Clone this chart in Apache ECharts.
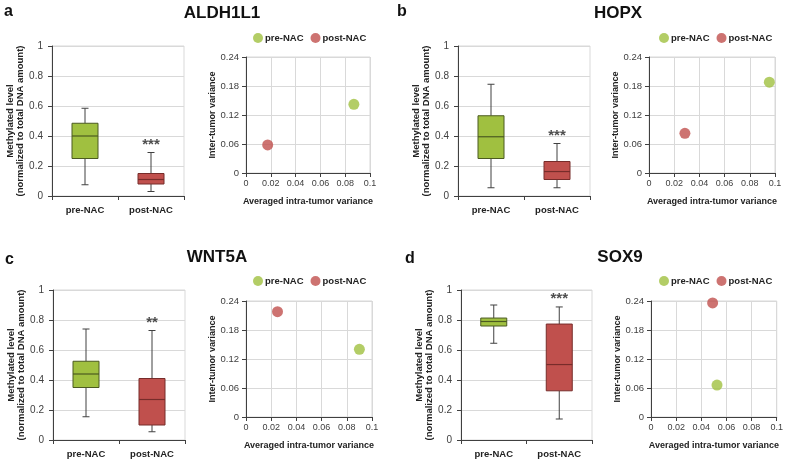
<!DOCTYPE html>
<html>
<head>
<meta charset="utf-8">
<script src="https://cdn.jsdelivr.net/npm/echarts@6/dist/echarts.min.js"></script>
<style>
  html, body { margin: 0; padding: 0; background: #fff; }
  #main { width: 786px; height: 462px; }
</style>
</head>
<body>
<div id="main"></div>
<script>
// data
const genes = ['ALDH1L1', 'HOPX', 'WNT5A', 'SOX9'];
const panelLetters = ['a', 'b', 'c', 'd'];
const groups = ['pre-NAC', 'post-NAC'];
// [min, Q1, median, Q3, max]
const preBox = [
  [0.075, 0.25, 0.40, 0.485, 0.585],
  [0.055, 0.25, 0.395, 0.535, 0.745],
  [0.155, 0.35, 0.44, 0.525, 0.74],
  [0.645, 0.76, 0.79, 0.813, 0.90]
];
const postBox = [
  [0.03, 0.08, 0.11, 0.15, 0.29],
  [0.055, 0.11, 0.163, 0.23, 0.35],
  [0.055, 0.10, 0.27, 0.41, 0.73],
  [0.14, 0.328, 0.503, 0.773, 0.887]
];
const stars = ['***', '***', '**', '***'];
const starLevel = [0.34, 0.40, 0.78, 0.94];
// [averaged intra-tumor variance, inter-tumor variance]
const preVar = [[0.087, 0.142], [0.0955, 0.188], [0.090, 0.140], [0.0525, 0.066]];
const postVar = [[0.0175, 0.058], [0.0285, 0.082], [0.025, 0.218], [0.049, 0.236]];
const boxTicks = { min: 0, max: 1, interval: 0.2 };
const varXTicks = { min: 0, max: 0.1, interval: 0.02 };
const varYTicks = { min: 0, max: 0.24, interval: 0.06 };

const green = '#a0c040', greenEdge = '#4b5a20';
const red = '#c0504d', redEdge = '#772c2a';
const axisColor = '#404040', gridColor = '#d9d9d9';
const font = "'Liberation Sans', Arial, sans-serif";

// panel layout
const boxGrids = [
  { left: 52, top: 46, width: 132, height: 150 },
  { left: 458, top: 46, width: 132, height: 150 },
  { left: 53, top: 290, width: 132, height: 150 },
  { left: 461, top: 290, width: 131, height: 150 }
];
const varGrids = [
  { left: 246, top: 57, width: 124, height: 116 },
  { left: 649, top: 57, width: 126, height: 116 },
  { left: 246, top: 301, width: 126, height: 116 },
  { left: 651, top: 301, width: 126, height: 116 }
];
const titlePos = [[217, 0], [613, 0], [212, 244], [615, 244]];
const letterPos = [[-1, -1], [392, -1], [0, 247], [400, 246]];
const legendPos = [[248, 28], [654, 28], [248, 271], [654, 271]];

const chart = echarts.init(document.getElementById('main'));

const nameStyle = { fontSize: 9, fontWeight: 'bold', color: '#222', fontFamily: font };

function renderBox(params, api) {
  const cat = api.value(0);
  const v = [1, 2, 3, 4, 5].map(i => api.value(i));
  const pt = val => api.coord([cat, val]);
  const x = pt(v[0])[0];
  const half = 13, cap = 3.5;
  const fill = cat === 0 ? green : red;
  const edge = cat === 0 ? greenEdge : redEdge;
  const wStyle = { stroke: axisColor, lineWidth: 1 };
  const yMin = pt(v[0])[1], yQ1 = pt(v[1])[1], yMed = pt(v[2])[1], yQ3 = pt(v[3])[1], yMax = pt(v[4])[1];
  return {
    type: 'group',
    children: [
      { type: 'line', shape: { x1: x, y1: yMin, x2: x, y2: yQ1 }, style: wStyle },
      { type: 'line', shape: { x1: x, y1: yQ3, x2: x, y2: yMax }, style: wStyle },
      { type: 'line', shape: { x1: x - cap, y1: yMin, x2: x + cap, y2: yMin }, style: wStyle },
      { type: 'line', shape: { x1: x - cap, y1: yMax, x2: x + cap, y2: yMax }, style: wStyle },
      { type: 'rect', shape: { x: x - half, y: yQ3, width: half * 2, height: yQ1 - yQ3 },
        style: { fill: fill, stroke: edge, lineWidth: 1 } },
      { type: 'line', shape: { x1: x - half, y1: yMed, x2: x + half, y2: yMed },
        style: { stroke: edge, lineWidth: 1.2 } }
    ]
  };
}

const grid = [], xAxis = [], yAxis = [], series = [], title = [], legend = [];

genes.forEach((gene, i) => {
  const bg = 2 * i, vg = 2 * i + 1;
  grid.push(Object.assign({ show: true, borderColor: gridColor, borderWidth: 1 }, boxGrids[i]));
  grid.push(Object.assign({ show: true, borderColor: gridColor, borderWidth: 1 }, varGrids[i]));

  // box plot axes
  xAxis.push({
    gridIndex: bg, type: 'category', data: groups, boundaryGap: true,
    axisLine: { lineStyle: { color: axisColor } },
    axisTick: { show: true, length: 4, lineStyle: { color: axisColor } },
    axisLabel: { fontSize: 9.5, fontWeight: 'bold', color: '#222', fontFamily: font, margin: 9 },
    splitLine: { show: false }
  });
  yAxis.push({
    gridIndex: bg, type: 'value', min: boxTicks.min, max: boxTicks.max, interval: boxTicks.interval,
    name: 'Methylated level\n(normalized to total DNA amount)',
    nameLocation: 'middle', nameGap: 13, nameRotate: 90,
    nameTextStyle: Object.assign({}, nameStyle, { fontSize: 9.5, lineHeight: 10 }),
    axisLine: { show: true, lineStyle: { color: axisColor } },
    axisTick: { show: true, length: 4, lineStyle: { color: axisColor } },
    axisLabel: { fontSize: 10, color: axisColor, fontFamily: font, margin: 9 },
    splitLine: { show: true, lineStyle: { color: gridColor } }
  });

  // variance axes
  xAxis.push({
    gridIndex: vg, type: 'value', min: varXTicks.min, max: varXTicks.max, interval: varXTicks.interval,
    name: 'Averaged intra-tumor variance', nameLocation: 'middle', nameGap: 24,
    nameTextStyle: nameStyle,
    axisLine: { show: true, onZero: false, lineStyle: { color: axisColor } },
    axisTick: { show: true, length: 4, lineStyle: { color: axisColor } },
    axisLabel: { fontSize: 9, color: axisColor, fontFamily: font, margin: 6 },
    splitLine: { show: true, lineStyle: { color: gridColor } }
  });
  yAxis.push({
    gridIndex: vg, type: 'value', min: varYTicks.min, max: varYTicks.max, interval: varYTicks.interval,
    name: 'Inter-tumor variance', nameLocation: 'middle', nameGap: 29, nameRotate: 90,
    nameTextStyle: nameStyle,
    axisLine: { show: true, onZero: false, lineStyle: { color: axisColor } },
    axisTick: { show: true, length: 4, lineStyle: { color: axisColor } },
    axisLabel: { fontSize: 9.5, color: axisColor, fontFamily: font, margin: 7 },
    splitLine: { show: true, lineStyle: { color: gridColor } }
  });

  series.push({
    type: 'custom', name: 'box-' + gene, xAxisIndex: bg, yAxisIndex: bg,
    renderItem: renderBox,
    encode: { x: 0, y: [1, 2, 3, 4, 5] },
    data: [[0].concat(preBox[i]), [1].concat(postBox[i])],
    silent: true
  });
  series.push({
    type: 'scatter', name: 'stars-' + gene, xAxisIndex: bg, yAxisIndex: bg,
    symbolSize: 1, itemStyle: { color: 'rgba(0,0,0,0)' },
    data: [[1, starLevel[i]]],
    label: { show: true, position: 'inside', formatter: stars[i], fontSize: 15, fontWeight: 'bold',
      color: '#222', fontFamily: font },
    silent: true
  });
  series.push({
    type: 'scatter', name: 'pre-NAC', xAxisIndex: vg, yAxisIndex: vg,
    symbolSize: 11, itemStyle: { color: green }, data: [preVar[i]]
  });
  series.push({
    type: 'scatter', name: 'post-NAC', xAxisIndex: vg, yAxisIndex: vg,
    symbolSize: 11, itemStyle: { color: red }, data: [postVar[i]]
  });

  title.push({
    text: gene, left: titlePos[i][0], top: titlePos[i][1], textAlign: 'center',
    textStyle: { fontSize: 17, fontWeight: 'bold', color: '#111', fontFamily: font }
  });
  title.push({
    text: panelLetters[i], left: letterPos[i][0], top: letterPos[i][1],
    textStyle: { fontSize: 16, fontWeight: 'bold', color: '#111', fontFamily: font }
  });
  legend.push({
    data: groups, left: legendPos[i][0], top: legendPos[i][1], width: 200, icon: 'circle',
    itemWidth: 10, itemHeight: 10, itemGap: 7, selectedMode: false,
    textStyle: { fontSize: 9.5, fontWeight: 'bold', color: '#222', fontFamily: font, padding: [0, 0, 0, -3] }
  });
});

chart.setOption({
  animation: false,
  backgroundColor: '#fff',
  title: title,
  legend: legend,
  grid: grid,
  xAxis: xAxis,
  yAxis: yAxis,
  series: series
});
</script>
</body>
</html>
